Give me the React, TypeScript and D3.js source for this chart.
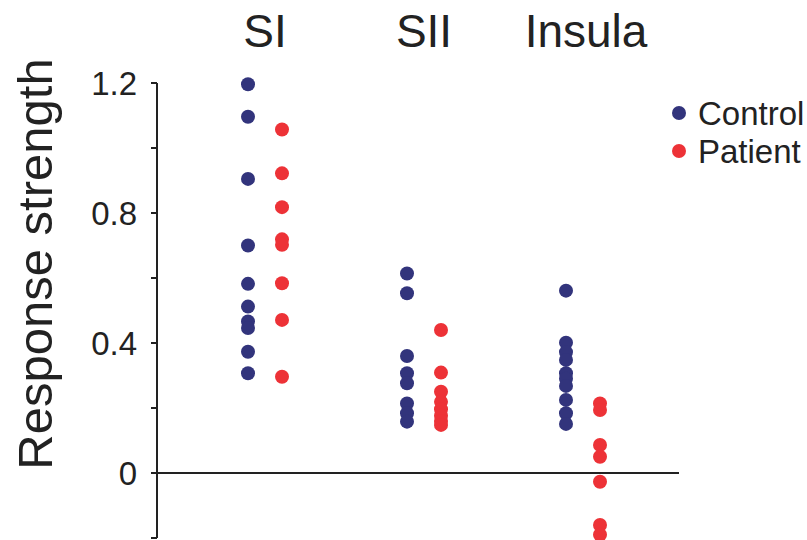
import React, { useEffect, useRef } from 'react';
import * as d3 from 'd3';

const regions = ['SI', 'SII', 'Insula'];
const groups = ['Control', 'Patient'];

const controlValues = [
  [1.196, 1.096, 0.905, 0.70, 0.582, 0.512, 0.466, 0.446, 0.373, 0.307],
  [0.614, 0.553, 0.36, 0.307, 0.276, 0.214, 0.184, 0.158],
  [0.561, 0.401, 0.372, 0.348, 0.307, 0.29, 0.268, 0.225, 0.184, 0.151],
];
const patientValues = [
  [1.057, 0.922, 0.818, 0.719, 0.702, 0.584, 0.471, 0.296],
  [0.44, 0.309, 0.25, 0.219, 0.196, 0.176, 0.16, 0.148],
  [0.214, 0.194, 0.086, 0.05, -0.027, -0.16, -0.19],
];

const yTicks = [1.2, 0.8, 0.4, 0];
const yMinorTicks = [1.0, 0.6, 0.2, -0.2];

const colors = { Control: '#32347c', Patient: '#ed3237' };

const App = () => {
  const ref = useRef(null);

  useEffect(() => {
    const svg = d3.select(ref.current);
    svg.selectAll('*').remove();

    const font = '"Liberation Sans", Arial, sans-serif';
    const ink = '#222';

    const y = d3.scaleLinear().domain([-0.2, 1.2]).range([538, 83]);
    const x = d3.scalePoint().domain(regions).range([265, 583]);
    const offset = d3.scalePoint().domain(groups).range([-17, 17]);

    // y axis
    const axis = svg.append('g').attr('transform', 'translate(157,0)');
    axis.append('line')
      .attr('y1', y(1.2)).attr('y2', y(-0.2))
      .attr('stroke', ink).attr('stroke-width', 2);
    axis.selectAll('.major')
      .data(yTicks.concat(yMinorTicks))
      .enter()
      .append('line')
      .attr('x1', -6).attr('x2', 0)
      .attr('y1', d => y(d)).attr('y2', d => y(d))
      .attr('stroke', ink).attr('stroke-width', 2);
    axis.selectAll('text')
      .data(yTicks)
      .enter()
      .append('text')
      .attr('x', -20)
      .attr('y', d => y(d))
      .attr('dy', '0.36em')
      .attr('text-anchor', 'end')
      .attr('font-family', font)
      .attr('font-size', 33)
      .attr('fill', ink)
      .text(d => (d === 0 ? '0' : d3.format('.1f')(d)));

    // zero line
    svg.append('line')
      .attr('x1', 157).attr('x2', 679)
      .attr('y1', y(0)).attr('y2', y(0))
      .attr('stroke', ink).attr('stroke-width', 2);

    // y label
    svg.append('text')
      .attr('transform', `translate(52,264) rotate(-90)`)
      .attr('text-anchor', 'middle')
      .attr('font-family', font)
      .attr('font-size', 49)
      .attr('fill', ink)
      .text('Response strength');

    // region titles
    svg.selectAll('.title')
      .data(regions)
      .enter()
      .append('text')
      .attr('x', d => x(d) + (d === 'Insula' ? 3 : 0))
      .attr('y', 47)
      .attr('text-anchor', 'middle')
      .attr('font-family', font)
      .attr('font-size', 46)
      .attr('fill', ink)
      .text(d => d);

    // dots
    const points = [];
    regions.forEach((r, i) => {
      controlValues[i].forEach(v => points.push({ region: r, group: 'Control', value: v }));
      patientValues[i].forEach(v => points.push({ region: r, group: 'Patient', value: v }));
    });
    svg.selectAll('.dot')
      .data(points)
      .enter()
      .append('circle')
      .attr('cx', d => x(d.region) + offset(d.group))
      .attr('cy', d => y(d.value))
      .attr('r', 7)
      .attr('fill', d => colors[d.group]);

    // legend
    const legend = svg.selectAll('.legend')
      .data(groups)
      .enter()
      .append('g')
      .attr('transform', (d, i) => `translate(679,${113 + i * 38})`);
    legend.append('circle')
      .attr('r', 7)
      .attr('fill', d => colors[d]);
    legend.append('text')
      .attr('x', 19)
      .attr('y', 0)
      .attr('dy', '0.35em')
      .attr('font-family', font)
      .attr('font-size', 33)
      .attr('fill', ink)
      .text(d => d);
  }, []);

  return (
    <svg
      ref={ref}
      width={807}
      height={540}
      style={{ position: 'absolute', left: 0, top: 0, background: '#fff' }}
    />
  );
};

export default App;
